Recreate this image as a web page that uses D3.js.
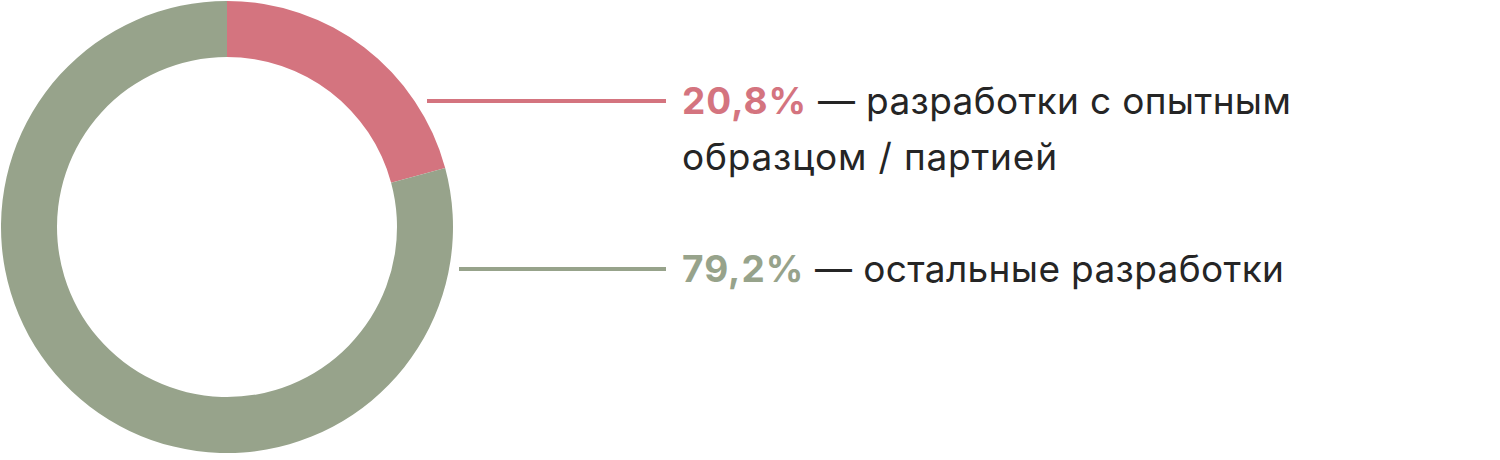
<!DOCTYPE html>
<html>
<head>
<meta charset="utf-8">
<script src="https://cdn.jsdelivr.net/npm/d3@7"></script>
<style>
  body { margin: 0; background: #fff; }
  svg text { font-family: Inter, Roboto, sans-serif; }
  .pct { font-weight: 700; letter-spacing: 1px; }
  .label { fill: #252525; letter-spacing: 0.35px; }
  .label2 { fill: #252525; letter-spacing: 0.8px; }
</style>
</head>
<body>
<div id="chart"></div>
<script>
const categories = ['разработки с опытным образцом / партией', 'остальные разработки'];
const shares = [20.8, 79.2];
const shareLabels = ['20,8%', '79,2%'];
const labelLines = [['— разработки с опытным', 'образцом / партией'], ['— остальные разработки']];
const colors = ['#d4747f', '#97a38b'];

const width = 1500, height = 460;
const cx = 227, cy = 227;
const outerR = 226, innerR = 170;

let svg = d3.select('#chart').append('svg')
    .attr('width', width)
    .attr('height', height);

let pie = d3.pie().sort(null).value(d => d);
let arc = d3.arc().innerRadius(innerR).outerRadius(outerR);

let donut = svg.append('g')
    .attr('transform', `translate(${cx} ${cy})`);

donut.selectAll('path')
    .data(pie(shares))
    .enter()
    .append('path')
    .attr('d', arc)
    .attr('fill', (d, i) => colors[i]);

// leader lines + labels
const rows = [
    { y: 101, x1: 427 },
    { y: 269, x1: 459 }
];
const textX = 682, lineEnd = 666;

let legend = svg.append('g');

rows.forEach((r, i) => {
    legend.append('line')
        .attr('x1', r.x1)
        .attr('x2', lineEnd)
        .attr('y1', r.y)
        .attr('y2', r.y)
        .attr('stroke', colors[i])
        .attr('stroke-width', 4);

    let t = legend.append('text')
        .attr('x', textX)
        .attr('y', r.y + 13)
        .attr('font-size', 37);

    t.append('tspan')
        .classed('pct', true)
        .attr('fill', colors[i])
        .text(shareLabels[i]);

    t.append('tspan')
        .classed('label', true)
        .text(' ' + labelLines[i][0]);

    labelLines[i].slice(1).forEach(line => {
        legend.append('text')
            .classed('label2', true)
            .attr('x', textX)
            .attr('y', r.y + 13 + 56)
            .attr('font-size', 37)
            .text(line);
    });
});
</script>
</body>
</html>
